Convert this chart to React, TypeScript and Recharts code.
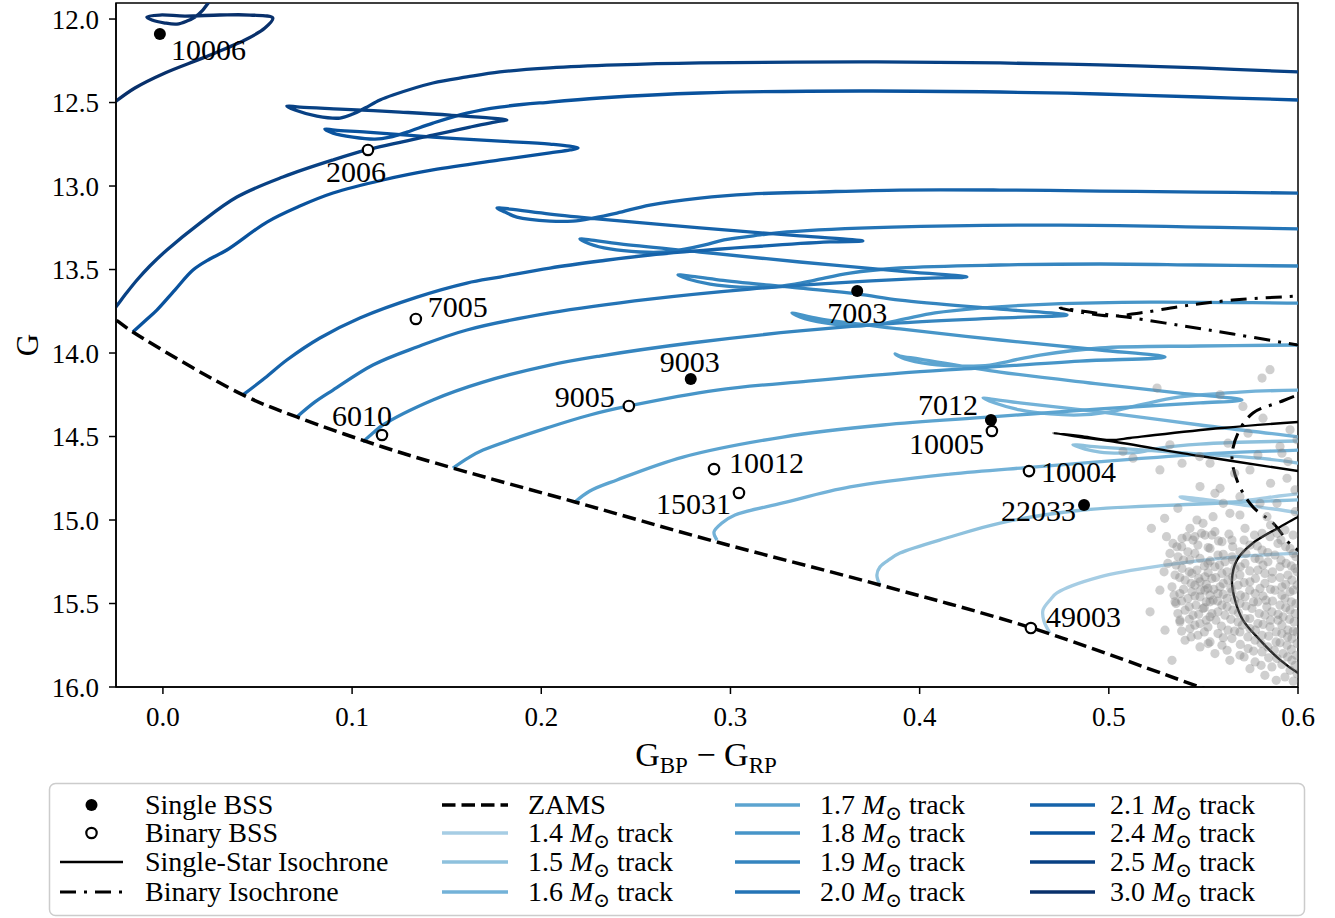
import React from 'react';
import { ComposedChart, Line, Scatter, XAxis, YAxis, ReferenceArea } from 'recharts';

const FONT = "'Liberation Serif', 'DejaVu Serif', serif";

// Axis ranges and ticks
const colorRange: [number, number] = [-0.0248, 0.6];
const magRange: [number, number] = [11.904, 16.0];
const colorTicks = [0, 0.1, 0.2, 0.3, 0.4, 0.5, 0.6];
const magTicks = [12, 12.5, 13, 13.5, 14, 14.5, 15, 15.5, 16];

// Zero-age main sequence [BP-RP, G]
const zams = [
  [-0.0333, 13.743], [-0.0248, 13.802], [-0.0159, 13.874], [0.0423, 14.251], [0.0708, 14.383],
  [0.1163, 14.563], [0.1533, 14.689], [0.2178, 14.892], [0.2929, 15.132], [0.379, 15.389],
  [0.4594, 15.647], [0.5482, 16.0], [0.564, 16.06],
];

// Stellar evolution tracks [BP-RP, G], ordered along the evolution
const track14 = [
  [0.4689, 15.677], [0.4657, 15.605], [0.4652, 15.539], [0.4689, 15.479], [0.4726, 15.437],
  [0.4953, 15.341], [0.5307, 15.269], [0.5656, 15.222], [0.6, 15.198], [0.6539, 15.18],
  [0.6592, 15.15], [0.6, 14.958], [0.5746, 14.916], [0.5482, 14.874], [0.5376, 14.862],
  [0.5429, 14.88], [0.5535, 14.892], [0.564, 14.892], [0.5746, 14.88], [0.6, 14.844], [0.6169, 14.838],
];
const track15 = [
  [0.379, 15.389], [0.3774, 15.329], [0.379, 15.281], [0.3843, 15.234], [0.3896, 15.198],
  [0.416, 15.102], [0.4425, 15.018], [0.4863, 14.94], [0.5482, 14.904], [0.6, 14.88], [0.6539, 14.862],
  [0.6592, 14.838], [0.6, 14.659], [0.5482, 14.605], [0.4953, 14.563], [0.481, 14.551],
  [0.4874, 14.575], [0.4953, 14.593], [0.5059, 14.599], [0.5165, 14.593], [0.527, 14.569],
  [0.5482, 14.545], [0.6, 14.527], [0.6169, 14.527],
];
const track16 = [
  [0.2929, 15.12], [0.2913, 15.072], [0.2955, 15.018], [0.3024, 14.97], [0.3277, 14.898],
  [0.3632, 14.802], [0.416, 14.725], [0.4599, 14.683], [0.5128, 14.635], [0.5588, 14.599],
  [0.6, 14.581], [0.6222, 14.569], [0.6248, 14.545], [0.6, 14.503], [0.5482, 14.431],
  [0.4953, 14.353], [0.453, 14.299], [0.4372, 14.275], [0.4335, 14.269], [0.4398, 14.299],
  [0.453, 14.341], [0.4689, 14.365], [0.4847, 14.371], [0.5006, 14.353], [0.5165, 14.311],
  [0.5376, 14.263], [0.5693, 14.234], [0.6, 14.222], [0.6169, 14.222],
];
const track17 = [
  [0.2178, 14.892], [0.2257, 14.826], [0.24, 14.76], [0.2749, 14.623], [0.3277, 14.503],
  [0.3806, 14.431], [0.4377, 14.383], [0.4953, 14.335], [0.5482, 14.299], [0.5704, 14.281],
  [0.5376, 14.24], [0.4953, 14.186], [0.4425, 14.114], [0.4002, 14.036], [0.3896, 14.018],
  [0.387, 14.006], [0.3922, 14.036], [0.4055, 14.066], [0.4213, 14.078], [0.4372, 14.072],
  [0.4477, 14.048], [0.4636, 14.012], [0.4953, 13.97], [0.5482, 13.958], [0.6, 13.952], [0.6169, 13.952],
];
const track18 = [
  [0.1533, 14.689], [0.1612, 14.629], [0.1692, 14.581], [0.2046, 14.443], [0.2257, 14.371],
  [0.2463, 14.317], [0.2929, 14.222], [0.341, 14.168], [0.3896, 14.12], [0.4303, 14.09],
  [0.4847, 14.048], [0.5297, 14.024], [0.4953, 13.982], [0.4425, 13.922], [0.3896, 13.856],
  [0.3473, 13.796], [0.3351, 13.766], [0.3325, 13.76], [0.3367, 13.784], [0.35, 13.82],
  [0.3658, 13.838], [0.379, 13.826], [0.3922, 13.796], [0.4081, 13.76], [0.4319, 13.731],
  [0.4689, 13.707], [0.5218, 13.695], [0.6, 13.701], [0.6169, 13.701],
];
const track19 = [
  [0.1057, 14.533], [0.111, 14.479], [0.1163, 14.431], [0.1427, 14.281], [0.1692, 14.174],
  [0.2046, 14.072], [0.231, 14.018], [0.2791, 13.94], [0.3367, 13.868], [0.3896, 13.82],
  [0.4425, 13.79], [0.4779, 13.772], [0.4425, 13.737], [0.3896, 13.683], [0.3674, 13.647],
  [0.3367, 13.611], [0.2944, 13.563], [0.2786, 13.539], [0.2722, 13.533], [0.2775, 13.557],
  [0.2892, 13.587], [0.305, 13.605], [0.3209, 13.605], [0.3341, 13.587], [0.3447, 13.563],
  [0.3632, 13.521], [0.3896, 13.491], [0.4425, 13.473], [0.4953, 13.467], [0.5482, 13.473],
  [0.6, 13.479], [0.6169, 13.479],
];
const track20 = [
  [0.0708, 14.383], [0.0804, 14.293], [0.0899, 14.222], [0.111, 14.072], [0.1343, 13.964],
  [0.1607, 13.862], [0.2046, 13.76], [0.2574, 13.677], [0.3103, 13.617], [0.3632, 13.575],
  [0.4055, 13.551], [0.425, 13.545], [0.3896, 13.509], [0.3367, 13.455], [0.2839, 13.395],
  [0.2416, 13.347], [0.2257, 13.323], [0.2204, 13.317], [0.2257, 13.347], [0.2363, 13.377],
  [0.2522, 13.395], [0.2654, 13.395], [0.2765, 13.377], [0.2865, 13.353], [0.2966, 13.323],
  [0.3156, 13.293], [0.3299, 13.275], [0.3854, 13.246], [0.4747, 13.234], [0.5482, 13.246],
  [0.6, 13.257], [0.6169, 13.263],
];
const track21 = [
  [0.0423, 14.251], [0.0539, 14.15], [0.0655, 14.042], [0.083, 13.91], [0.1041, 13.79],
  [0.1343, 13.665], [0.1607, 13.581], [0.1781, 13.545], [0.2046, 13.491], [0.231, 13.449],
  [0.2574, 13.413], [0.3103, 13.365], [0.3526, 13.335], [0.37, 13.329], [0.3367, 13.299],
  [0.2839, 13.251], [0.231, 13.198], [0.2046, 13.168], [0.1834, 13.138], [0.1766, 13.132],
  [0.1808, 13.156], [0.1871, 13.186], [0.2046, 13.21], [0.2167, 13.21], [0.2273, 13.192],
  [0.24, 13.162], [0.2574, 13.114], [0.2839, 13.072], [0.3103, 13.048], [0.3457, 13.036],
  [0.3896, 13.024], [0.4425, 13.024], [0.4953, 13.03], [0.5482, 13.036], [0.6, 13.042], [0.6169, 13.042],
];
const track24 = [
  [-0.0159, 13.874], [-0.0095, 13.808], [-0.0032, 13.743], [0.0063, 13.623], [0.0159, 13.503],
  [0.0248, 13.437], [0.0338, 13.383], [0.055, 13.216], [0.0724, 13.12], [0.0899, 13.042],
  [0.1163, 12.964], [0.1427, 12.904], [0.1781, 12.844], [0.2046, 12.802], [0.2152, 12.784],
  [0.2194, 12.772], [0.2046, 12.749], [0.1781, 12.731], [0.1427, 12.707], [0.1078, 12.677],
  [0.0909, 12.665], [0.0856, 12.659], [0.0899, 12.683], [0.1004, 12.707], [0.1121, 12.719],
  [0.12, 12.707], [0.129, 12.677], [0.1427, 12.623], [0.1607, 12.563], [0.1781, 12.527],
  [0.2046, 12.497], [0.231, 12.473], [0.2839, 12.443], [0.3685, 12.431], [0.4425, 12.437],
  [0.4953, 12.449], [0.5482, 12.467], [0.6, 12.485], [0.6169, 12.491],
];
const track25 = [
  [-0.0301, 13.79], [-0.0254, 13.731], [-0.0201, 13.653], [-0.0137, 13.563], [-0.0069, 13.479],
  [0.0021, 13.383], [0.0196, 13.222], [0.0391, 13.066], [0.0634, 12.946], [0.0899, 12.844],
  [0.1078, 12.784], [0.1427, 12.695], [0.1623, 12.647], [0.1781, 12.611], [0.1818, 12.605],
  [0.1517, 12.575], [0.1253, 12.557], [0.0936, 12.539], [0.0724, 12.527], [0.0655, 12.521],
  [0.0698, 12.545], [0.0814, 12.581], [0.0936, 12.593], [0.1004, 12.569], [0.1068, 12.533],
  [0.1147, 12.485], [0.1216, 12.455], [0.1427, 12.383], [0.1607, 12.347], [0.1781, 12.317],
  [0.2046, 12.293], [0.24, 12.275], [0.2839, 12.263], [0.3685, 12.257], [0.4425, 12.263],
  [0.4953, 12.275], [0.5482, 12.293], [0.6, 12.317], [0.6169, 12.323],
];
const track30 = [
  [-0.0359, 12.593], [-0.0254, 12.497], [-0.0148, 12.413], [0.0011, 12.323], [0.0222, 12.228],
  [0.0433, 12.126], [0.0539, 12.054], [0.0581, 11.994], [0.046, 11.976], [0.0301, 11.976],
  [0.0116, 11.982], [-0.0016, 11.976], [-0.0085, 11.988], [-0.0058, 12.006], [0.0011, 12.024],
  [0.0074, 12.03], [0.0127, 12.012], [0.0169, 11.988], [0.0211, 11.946], [0.0248, 11.892],
  [0.0312, 11.814],
];

const trackMasses = ['1.4', '1.5', '1.6', '1.7', '1.8', '1.9', '2.0', '2.1', '2.4', '2.5', '3.0'];
const trackPaths = [track14, track15, track16, track17, track18, track19, track20, track21, track24, track25, track30];
const trackColors = [
  '#a6cde4', '#8ec1dd', '#73b2d8', '#5ca4d0', '#4795c8', '#3585bf',
  '#2474b6', '#1663aa', '#09529d', '#084184', '#08306b',
];

// Isochrones [BP-RP, G]
const singleIsochrone = [
  [0.6116, 15.982], [0.6, 15.916], [0.5905, 15.838], [0.5799, 15.719], [0.5709, 15.599],
  [0.5667, 15.479], [0.5651, 15.359], [0.5677, 15.24], [0.5762, 15.138], [0.5905, 15.042],
  [0.6, 14.982], [0.6116, 14.928], [0.6169, 14.82], [0.6116, 14.731], [0.6, 14.707],
  [0.5482, 14.617], [0.5006, 14.527], [0.4847, 14.503], [0.4705, 14.479], [0.4847, 14.497],
  [0.5006, 14.521], [0.5112, 14.509], [0.5244, 14.491], [0.5598, 14.449], [0.6, 14.413], [0.6169, 14.401],
];
const binaryIsochrone = [
  [0.6063, 15.216], [0.5974, 15.162], [0.5868, 15.018], [0.5762, 14.922], [0.5683, 14.778],
  [0.5651, 14.623], [0.5683, 14.479], [0.5762, 14.359], [0.5905, 14.293], [0.6, 14.251],
  [0.6116, 14.21], [0.6169, 14.1], [0.6116, 13.97], [0.6, 13.952], [0.5656, 13.886],
  [0.5392, 13.838], [0.5128, 13.79], [0.5006, 13.772], [0.4742, 13.731], [0.5006, 13.778],
  [0.5165, 13.76], [0.5392, 13.719], [0.5656, 13.683], [0.6, 13.659], [0.6116, 13.653],
];

// Cluster members in the field [BP-RP, G]
const fieldStars = [
  [0.5255, 14.21], [0.5588, 14.25], [0.5852, 14.10], [0.581, 14.15], [0.5709, 14.32], [0.5815, 14.39],
  [0.5736, 14.48], [0.563, 14.54], [0.5075, 14.59], [0.5128, 14.63], [0.527, 14.70], [0.5387, 14.66],
  [0.5323, 14.55], [0.5482, 14.80], [0.5561, 14.84], [0.5588, 14.81], [0.5693, 14.86], [0.5799, 14.90],
  [0.5889, 14.90], [0.5947, 14.65], [0.5942, 14.75], [0.5958, 14.46], [0.5905, 14.56], [0.5788, 14.61],
  [0.5984, 14.82], [0.5746, 14.70], [0.5836, 14.98], [0.5693, 14.97], [0.564, 14.96], [0.5551, 14.98],
  [0.5466, 15.00], [0.5498, 15.02], [0.5413, 15.10], [0.536, 15.16], [0.5455, 15.10], [0.5545, 15.09],
  [0.548, 14.62], [0.5535, 14.66], [0.5665, 14.72], [0.5915, 14.60], [0.5995, 14.52], [0.5855, 14.78],
  [0.5605, 14.90], [0.5365, 14.93], [0.5295, 14.99], [0.5225, 15.05], [0.5305, 15.10], [0.5855, 15.03],
  [0.5985, 14.95],
  [0.5429, 15.05], [0.5561, 15.07], [0.572, 15.05], [0.581, 15.08], [0.5931, 15.06],
  [0.549, 15.08], [0.5635, 15.085], [0.577, 15.09], [0.589, 15.08],
  [0.5387, 15.11], [0.5508, 15.09], [0.5651, 15.12], [0.5852, 15.10], [0.5974, 15.09],
  [0.5445, 15.12], [0.558, 15.125], [0.5715, 15.12], [0.591, 15.12],
  [0.5339, 15.14], [0.5471, 15.15], [0.5598, 15.13], [0.5746, 15.15], [0.5894, 15.14],
  [0.5385, 15.16], [0.5525, 15.165], [0.5655, 15.16], [0.5785, 15.155], [0.5935, 15.16],
  [0.5418, 15.19], [0.5535, 15.17], [0.5693, 15.19], [0.581, 15.18], [0.5958, 15.17],
  [0.5455, 15.20], [0.5605, 15.205], [0.5725, 15.20], [0.584, 15.195], [0.5975, 15.20],
  [0.5366, 15.22], [0.5482, 15.23], [0.5577, 15.21], [0.5651, 15.22], [0.5773, 15.23], [0.5878, 15.21], [0.5989, 15.22],
  [0.5395, 15.24], [0.5535, 15.245], [0.5655, 15.24], [0.5795, 15.235], [0.591, 15.24],
  [0.5312, 15.26], [0.5429, 15.24], [0.5524, 15.26], [0.5614, 15.25], [0.572, 15.26], [0.5841, 15.25], [0.5937, 15.26],
  [0.5355, 15.27], [0.5505, 15.275], [0.5585, 15.27], [0.5695, 15.28], [0.5815, 15.27], [0.5965, 15.275],
  [0.5387, 15.29], [0.5466, 15.30], [0.5561, 15.28], [0.5667, 15.29], [0.5788, 15.30], [0.5905, 15.28], [0.5984, 15.29],
  [0.5425, 15.31], [0.5525, 15.315], [0.5625, 15.31], [0.5745, 15.305], [0.5865, 15.31], [0.5995, 15.31],
  [0.535, 15.33], [0.5439, 15.32], [0.5508, 15.34], [0.5598, 15.32], [0.5693, 15.33], [0.5825, 15.32], [0.5947, 15.33],
  [0.5375, 15.345], [0.5475, 15.35], [0.5565, 15.345], [0.5655, 15.34], [0.5775, 15.35], [0.5905, 15.345],
  [0.5403, 15.36], [0.5482, 15.37], [0.5545, 15.35], [0.563, 15.36], [0.5746, 15.37], [0.5862, 15.35], [0.5968, 15.36],
  [0.5435, 15.38], [0.5515, 15.385], [0.5605, 15.38], [0.5715, 15.375], [0.5825, 15.38], [0.5935, 15.385],
  [0.5334, 15.40], [0.5455, 15.39], [0.5524, 15.41], [0.5588, 15.40], [0.5683, 15.39], [0.5799, 15.41], [0.5915, 15.40], [0.5995, 15.39],
  [0.5395, 15.415], [0.5485, 15.42], [0.5555, 15.415], [0.5645, 15.41], [0.5745, 15.42], [0.5855, 15.415], [0.5975, 15.42],
  [0.5376, 15.44], [0.5439, 15.43], [0.5508, 15.42], [0.5577, 15.44], [0.5651, 15.43], [0.5773, 15.44], [0.5878, 15.42], [0.5958, 15.43],
  [0.5345, 15.45], [0.5455, 15.455], [0.5535, 15.45], [0.5605, 15.445], [0.5695, 15.45], [0.5815, 15.455], [0.5915, 15.45],
  [0.5418, 15.47], [0.5482, 15.46], [0.5551, 15.48], [0.5625, 15.47], [0.572, 15.46], [0.5831, 15.48], [0.5931, 15.47],
  [0.5385, 15.485], [0.5515, 15.49], [0.5575, 15.485], [0.5665, 15.48], [0.5765, 15.49], [0.5865, 15.485], [0.5965, 15.49],
  [0.5355, 15.50], [0.5461, 15.51], [0.5535, 15.49], [0.5598, 15.51], [0.5693, 15.50], [0.5788, 15.49], [0.5905, 15.51], [0.5989, 15.50],
  [0.5425, 15.52], [0.5505, 15.525], [0.5625, 15.52], [0.5725, 15.515], [0.5835, 15.52], [0.5935, 15.525],
  [0.5403, 15.54], [0.5498, 15.53], [0.5577, 15.55], [0.5656, 15.54], [0.5757, 15.53], [0.5862, 15.55], [0.5958, 15.54],
  [0.5365, 15.56], [0.5475, 15.565], [0.5545, 15.56], [0.5685, 15.555], [0.5795, 15.56], [0.5895, 15.565], [0.5985, 15.56],
  [0.5445, 15.57], [0.5535, 15.58], [0.5614, 15.57], [0.572, 15.59], [0.5825, 15.57], [0.5921, 15.58],
  [0.5425, 15.595], [0.5515, 15.60], [0.5645, 15.595], [0.5745, 15.59], [0.5855, 15.60], [0.5955, 15.595],
  [0.5376, 15.61], [0.5482, 15.62], [0.5566, 15.60], [0.5683, 15.61], [0.5788, 15.62], [0.5894, 15.60], [0.5979, 15.61],
  [0.5455, 15.63], [0.5595, 15.635], [0.5705, 15.63], [0.5815, 15.625], [0.5915, 15.63],
  [0.5429, 15.65], [0.5524, 15.64], [0.563, 15.66], [0.5746, 15.65], [0.5852, 15.64], [0.5947, 15.66],
  [0.5385, 15.665], [0.5505, 15.67], [0.5665, 15.665], [0.5775, 15.66], [0.5885, 15.67], [0.5975, 15.665],
  [0.5471, 15.69], [0.5577, 15.68], [0.5693, 15.67], [0.581, 15.69], [0.5915, 15.68], [0.5995, 15.67],
  [0.5435, 15.70], [0.5605, 15.705], [0.5735, 15.70], [0.5845, 15.695], [0.5945, 15.70],
  [0.5403, 15.72], [0.5535, 15.73], [0.5651, 15.71], [0.5773, 15.72], [0.5884, 15.73], [0.5968, 15.71],
  [0.5525, 15.74], [0.5695, 15.745], [0.5805, 15.74], [0.5905, 15.735], [0.5995, 15.74],
  [0.5482, 15.76], [0.5598, 15.75], [0.5736, 15.77], [0.5841, 15.76], [0.5942, 15.75],
  [0.5625, 15.78], [0.5765, 15.785], [0.5875, 15.78], [0.5965, 15.775],
  [0.5561, 15.80], [0.5693, 15.81], [0.581, 15.79], [0.5921, 15.80], [0.5989, 15.81],
  [0.5715, 15.82], [0.5845, 15.825], [0.5945, 15.82],
  [0.564, 15.84], [0.5773, 15.85], [0.5889, 15.83], [0.5968, 15.84],
  [0.5805, 15.87], [0.5915, 15.865], [0.5985, 15.87],
  [0.5746, 15.89], [0.5862, 15.88], [0.5958, 15.90],
  [0.5825, 15.93], [0.5931, 15.94], [0.5995, 15.92],
  [0.5885, 15.96], [0.5975, 15.965],
  [0.527, 15.42], [0.5297, 15.66], [0.5334, 15.84], [0.5218, 15.55], [0.535, 15.49], [0.5376, 15.60],
  [0.5292, 15.31], [0.5323, 15.20],
];

// Blue straggler stars
const singleBss = [
  { id: '10006', x: -0.0016, g: 12.09 },
  { id: '9003', x: 0.279, g: 14.156 },
  { id: '7003', x: 0.367, g: 13.629 },
  { id: '7012', x: 0.4377, g: 14.401 },
  { id: '22033', x: 0.4869, g: 14.91 },
];
const binaryBss = [
  { id: '2006', x: 0.1084, g: 12.784 },
  { id: '7005', x: 0.1337, g: 13.796 },
  { id: '6010', x: 0.1158, g: 14.491 },
  { id: '9005', x: 0.2463, g: 14.317 },
  { id: '10012', x: 0.2913, g: 14.695 },
  { id: '15031', x: 0.3045, g: 14.838 },
  { id: '10005', x: 0.4382, g: 14.467 },
  { id: '10004', x: 0.4578, g: 14.707 },
  { id: '49003', x: 0.4588, g: 15.647 },
];

// Label placement relative to each marker: [dx, dy, anchor]
const labelPlacement: Record<string, [number, number, 'start' | 'middle' | 'end']> = {
  '10006': [11, 15, 'start'],
  '2006': [-12, 22, 'middle'],
  '7005': [12, -12, 'start'],
  '6010': [-20, -20, 'middle'],
  '9003': [-1, -18, 'middle'],
  '9005': [-14, -9, 'end'],
  '7003': [0, 21, 'middle'],
  '7012': [-13, -15, 'end'],
  '10005': [-8, 12, 'end'],
  '10012': [15, -7, 'start'],
  '15031': [-8, 11, 'end'],
  '10004': [12, 0, 'start'],
  '22033': [-8, 6, 'end'],
  '49003': [15, -12, 'start'],
};

const toPoints = (rows: number[][]) => rows.map(([x, g]) => ({ x, g }));

// Centripetal Catmull-Rom curve, so the tracks pass smoothly through every sample
const smoothCurve = (context: any) => {
  let pts: number[][] = [];
  return {
    areaStart() {},
    areaEnd() {},
    lineStart() {
      pts = [];
    },
    point(x: number, y: number) {
      pts.push([+x, +y]);
    },
    lineEnd() {
      const n = pts.length;
      if (n === 0) return;
      context.moveTo(pts[0][0], pts[0][1]);
      if (n === 1) return;
      for (let i = 0; i < n - 1; i++) {
        const p0 = pts[i - 1] || pts[i];
        const p1 = pts[i];
        const p2 = pts[i + 1];
        const p3 = pts[i + 2] || pts[i + 1];
        const d01 = Math.hypot(p1[0] - p0[0], p1[1] - p0[1]);
        const d12 = Math.hypot(p2[0] - p1[0], p2[1] - p1[1]);
        const d23 = Math.hypot(p3[0] - p2[0], p3[1] - p2[1]);
        const a01 = Math.sqrt(d01);
        const a12 = Math.sqrt(d12);
        const a23 = Math.sqrt(d23);
        let c1x = p1[0];
        let c1y = p1[1];
        let c2x = p2[0];
        let c2y = p2[1];
        if (a01 > 1e-9) {
          const a = 2 * d01 + 3 * a01 * a12 + d12;
          const m = 3 * a01 * (a01 + a12);
          c1x = (p1[0] * a - p0[0] * d12 + p2[0] * d01) / m;
          c1y = (p1[1] * a - p0[1] * d12 + p2[1] * d01) / m;
        }
        if (a23 > 1e-9) {
          const b = 2 * d23 + 3 * a23 * a12 + d12;
          const m = 3 * a23 * (a23 + a12);
          c2x = (p2[0] * b + p1[0] * d23 - p3[0] * d12) / m;
          c2y = (p2[1] * b + p1[1] * d23 - p3[1] * d12) / m;
        }
        context.bezierCurveTo(c1x, c1y, c2x, c2y, p2[0], p2[1]);
      }
    },
  };
};

const makeBssShape = (filled: boolean) => (props: any) => {
  const { cx, cy, payload } = props;
  const [dx, dy, anchor] = labelPlacement[payload.id];
  return (
    <g>
      <circle
        cx={cx}
        cy={cy}
        r={filled ? 6 : 5.2}
        fill={filled ? '#000' : '#fff'}
        stroke="#000"
        strokeWidth={filled ? 0 : 2.2}
      />
      <text
        x={cx + dx}
        y={cy + dy}
        textAnchor={anchor}
        dominantBaseline="central"
        fontSize={30}
        fontFamily={FONT}
        fill="#000"
      >
        {payload.id}
      </text>
    </g>
  );
};

// Field stars are drawn as the dots of an unstroked series so the isochrones sit above them
const FieldStarDot = (props: any) => {
  const { cx, cy, index } = props;
  if (cx == null || cy == null) return <g key={`fs-${index}`} />;
  return <circle key={`fs-${index}`} cx={cx} cy={cy} r={4.6} fill="#808080" fillOpacity={0.38} />;
};

const LEG_FONT = 28;
const legendRows = [805, 833, 862, 892];

function Handle({ kind, x1, x2, y, color }: { kind: string; x1: number; x2: number; y: number; color?: string }) {
  const mid = (x1 + x2) / 2;
  if (kind === 'dot') return <circle cx={mid} cy={y} r={6} fill="#000" />;
  if (kind === 'ring') return <circle cx={mid} cy={y} r={5.2} fill="#fff" stroke="#000" strokeWidth={2.2} />;
  if (kind === 'solid') return <line x1={x1} x2={x2} y1={y} y2={y} stroke="#000" strokeWidth={2.4} />;
  if (kind === 'dashdot') return <line x1={x1} x2={x2} y1={y} y2={y} stroke="#000" strokeWidth={3} strokeDasharray="16 8 3 8" />;
  if (kind === 'dashed') return <line x1={x1} x2={x2} y1={y} y2={y} stroke="#000" strokeWidth={3.5} strokeDasharray="13.5 6" />;
  return <line x1={x1} x2={x2} y1={y} y2={y} stroke={color} strokeWidth={3.5} />;
}

function TrackText({ x, y, mass }: { x: number; y: number; mass: string }) {
  return (
    <text x={x} y={y} fontSize={LEG_FONT} fontFamily={FONT} fill="#000">
      {mass + ' '}
      <tspan fontStyle="italic">M</tspan>
      <tspan dy={6} fontSize={20}>⊙</tspan>
      <tspan dy={-6}>{' track'}</tspan>
    </text>
  );
}

function Overlay() {
  const cols = [
    { x1: 60, x2: 123, tx: 145 },
    { x1: 442, x2: 508, tx: 528 },
    { x1: 735, x2: 800, tx: 820 },
    { x1: 1030, x2: 1095, tx: 1110 },
  ];
  const firstCol = [
    { label: 'Single BSS', kind: 'dot' },
    { label: 'Binary BSS', kind: 'ring' },
    { label: 'Single-Star Isochrone', kind: 'solid' },
    { label: 'Binary Isochrone', kind: 'dashdot' },
  ];
  const trackEntries = trackMasses.map((m, i) => ({ m, c: trackColors[i] }));
  const secondCol = [null, ...trackEntries.slice(0, 3)];
  const thirdCol = trackEntries.slice(3, 7);
  const fourthCol = trackEntries.slice(7, 11);
  const base = 9;
  return (
    <svg width={1335} height={918} style={{ position: 'absolute', left: 0, top: 0, pointerEvents: 'none' }}>
      <text x={706} y={766} textAnchor="middle" fontSize={34} fontFamily={FONT} fill="#000">
        G<tspan dy={7} fontSize={23}>BP</tspan>
        <tspan dy={-7}>{' \u2212 G'}</tspan>
        <tspan dy={7} fontSize={23}>RP</tspan>
      </text>
      <text
        x={38}
        y={345}
        textAnchor="middle"
        fontSize={31}
        fontFamily={FONT}
        fill="#000"
        transform="rotate(-90, 38, 345)"
      >
        G
      </text>
      <rect x={49.5} y={783.5} width={1255} height={132} rx={6} fill="#fff" stroke="#cccccc" strokeWidth={1.5} />
      {firstCol.map((e, i) => (
        <g key={e.label}>
          <Handle kind={e.kind} x1={cols[0].x1} x2={cols[0].x2} y={legendRows[i]} />
          <text x={cols[0].tx} y={legendRows[i] + base} fontSize={LEG_FONT} fontFamily={FONT} fill="#000">
            {e.label}
          </text>
        </g>
      ))}
      {secondCol.map((e, i) =>
        e === null ? (
          <g key="zams">
            <Handle kind="dashed" x1={cols[1].x1} x2={cols[1].x2} y={legendRows[0]} />
            <text x={cols[1].tx} y={legendRows[0] + base} fontSize={LEG_FONT} fontFamily={FONT} fill="#000">
              ZAMS
            </text>
          </g>
        ) : (
          <g key={e.m}>
            <Handle kind="track" color={e.c} x1={cols[1].x1} x2={cols[1].x2} y={legendRows[i]} />
            <TrackText x={cols[1].tx} y={legendRows[i] + base} mass={e.m} />
          </g>
        )
      )}
      {thirdCol.map((e, i) => (
        <g key={e.m}>
          <Handle kind="track" color={e.c} x1={cols[2].x1} x2={cols[2].x2} y={legendRows[i]} />
          <TrackText x={cols[2].tx} y={legendRows[i] + base} mass={e.m} />
        </g>
      ))}
      {fourthCol.map((e, i) => (
        <g key={e.m}>
          <Handle kind="track" color={e.c} x1={cols[3].x1} x2={cols[3].x2} y={legendRows[i]} />
          <TrackText x={cols[3].tx} y={legendRows[i] + base} mass={e.m} />
        </g>
      ))}
    </svg>
  );
}

export default function App() {
  const tickStyle = { fontSize: 27, fontFamily: FONT, fill: '#000' };
  return (
    <div style={{ position: 'absolute', left: 0, top: 0, width: 1335, height: 918, background: '#fff' }}>
      <ComposedChart width={1335} height={918} margin={{ top: 3, right: 37, bottom: 0, left: 0 }}>
        <XAxis
          type="number"
          dataKey="x"
          domain={colorRange}
          allowDataOverflow
          ticks={colorTicks}
          tickFormatter={(v: number) => v.toFixed(1)}
          height={231}
          tick={tickStyle}
          tickSize={7}
          tickMargin={13}
          stroke="#000"
          strokeWidth={1.5}
        />
        <YAxis
          type="number"
          domain={magRange}
          reversed
          allowDataOverflow
          ticks={magTicks}
          tickFormatter={(v: number) => v.toFixed(1)}
          width={116}
          tick={tickStyle}
          tickSize={7}
          tickMargin={10}
          stroke="#000"
          strokeWidth={1.5}
        />
        {trackPaths.map((path, i) => (
          <Line
            key={trackMasses[i]}
            data={toPoints(path)}
            dataKey="g"
            type={smoothCurve as any}
            stroke={trackColors[i]}
            strokeWidth={3.3}
            dot={false}
            activeDot={false}
            isAnimationActive={false}
          />
        ))}
        <Line
          data={toPoints(fieldStars)}
          dataKey="g"
          stroke="none"
          strokeWidth={0}
          dot={FieldStarDot}
          activeDot={false}
          isAnimationActive={false}
        />
        <Line
          data={toPoints(zams)}
          dataKey="g"
          type={smoothCurve as any}
          stroke="#000"
          strokeWidth={3.5}
          strokeDasharray="13.5 6"
          dot={false}
          activeDot={false}
          isAnimationActive={false}
        />
        <Line
          data={toPoints(singleIsochrone)}
          dataKey="g"
          type={smoothCurve as any}
          stroke="#000"
          strokeWidth={2.4}
          dot={false}
          activeDot={false}
          isAnimationActive={false}
        />
        <Line
          data={toPoints(binaryIsochrone)}
          dataKey="g"
          type={smoothCurve as any}
          stroke="#000"
          strokeWidth={3}
          strokeDasharray="16 8 3 8"
          dot={false}
          activeDot={false}
          isAnimationActive={false}
        />
        <Scatter data={singleBss} dataKey="g" shape={makeBssShape(true)} isAnimationActive={false} />
        <Scatter data={binaryBss} dataKey="g" shape={makeBssShape(false)} isAnimationActive={false} />
        <ReferenceArea
          x1={colorRange[0]}
          x2={colorRange[1]}
          y1={magRange[0]}
          y2={magRange[1]}
          fill="none"
          stroke="#000"
          strokeWidth={1.5}
          ifOverflow="visible"
        />
      </ComposedChart>
      <Overlay />
    </div>
  );
}
